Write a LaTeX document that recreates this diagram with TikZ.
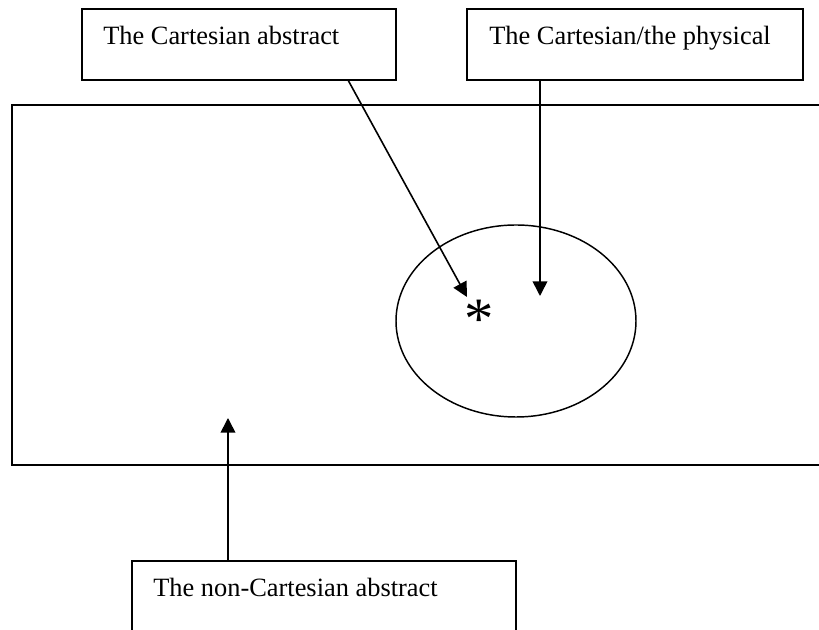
\documentclass[tikz,border=0pt]{standalone}
\usepackage{fontspec}
\setmainfont{Liberation Serif}
\usetikzlibrary{arrows.meta,positioning}

\begin{document}
\begin{tikzpicture}[x=0.75pt, y=-0.75pt,
  box/.style={draw, line width=1.6pt, inner sep=0pt, outer sep=0pt, minimum height=53.25pt, anchor=north west},
  txt/.style={inner sep=0pt, anchor=base west, font=\fontsize{19.8}{24}\selectfont},
  arr/.style={line width=1.2pt, -{Triangle[length=11pt, width=11pt]}}]
\useasboundingbox (0,0) rectangle (819,630);
\clip (0,0) rectangle (819,630);
% the outer frame and the oval
\draw[line width=1.5pt] (12,105) rectangle (840,465);
\draw[line width=1.1pt] (516,321) ellipse [x radius=90pt, y radius=72pt];
% boxes
\node[box, minimum width=235.5pt] (abs) at (82,9) {};
\node[txt] (abstxt) at (103,45) {The Cartesian abstract};
\node[box, minimum width=252pt] (phys) at (467,9) {};
\node[txt] (phystxt) at (489,45) {The Cartesian/the physical};
\node[box, minimum width=288pt, minimum height=62pt] (noncart) at (132,561) {};
\node[txt] (noncarttxt) at (153,597) {The non-Cartesian abstract};
\node[inner sep=0pt, anchor=base, font=\fontsize{44}{44}\selectfont] (star) at (479,339) {*};
% arrows
\coordinate (asrc) at ([xshift=199.5pt]abs.south west);
\coordinate (tipa) at (467,297);
\coordinate (tipp) at (540,296);
\coordinate (tipn) at (228,418);
\draw[arr] (asrc) -- (tipa);
\draw[arr] (tipp |- phys.south) -- (tipp);
\draw[arr] (tipn |- noncart.north) -- (tipn);
\end{tikzpicture}
\end{document}
